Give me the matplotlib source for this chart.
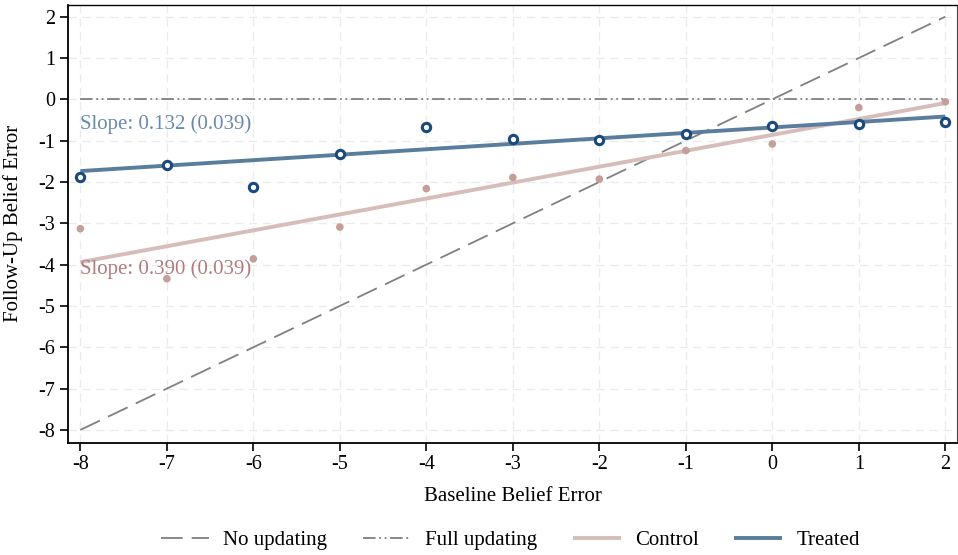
import matplotlib
matplotlib.use("Agg")
import matplotlib.pyplot as plt
import numpy as np

baseline = [-8, -7, -6, -5, -4, -3, -2, -1, 0, 1, 2]
treated = [-1.87, -1.58, -2.12, -1.32, -0.67, -0.96, -0.98, -0.84, -0.65, -0.60, -0.54]
control = [-3.13, -4.34, -3.86, -3.09, -2.16, -1.89, -1.93, -1.24, -1.08, -0.20, -0.06]
treated_fit = {"intercept": -0.68, "slope": 0.132}
control_fit = {"intercept": -0.86, "slope": 0.385}
treated_label = "Slope: 0.132 (0.039)"
control_label = "Slope: 0.390 (0.039)"
xticks = list(range(-8, 3))
yticks = list(range(-8, 3))

plt.rcParams['font.family'] = ['Liberation Serif', 'DejaVu Serif']
plt.rcParams['font.size'] = 15

fig = plt.figure(figsize=(9.58, 5.55), dpi=100)
ax = fig.add_axes([0.0707, 0.2023, 0.9286, 0.7892])

xs = np.array([baseline[0], baseline[-1]], dtype=float)

ax.plot(xs, xs, color='#808080', lw=1.3, dashes=(12, 5), label='No updating', zorder=2)
ax.plot(xs, [0, 0], color='#808080', lw=1.3, dashes=(7, 2, 1, 2, 1, 2), label='Full updating', zorder=2)
ax.plot(xs, control_fit["intercept"] + control_fit["slope"] * xs, color='#d6bdb9', lw=2.8,
        label='Control', zorder=3, solid_capstyle='butt')
ax.plot(xs, treated_fit["intercept"] + treated_fit["slope"] * xs, color='#5a7d9d', lw=2.8,
        label='Treated', zorder=4, solid_capstyle='butt')

ax.scatter(baseline, control, s=30, color='#c49e98', edgecolors='none', zorder=5)
ax.scatter(baseline, treated, s=36, facecolors='white', edgecolors='#1a4a7c', linewidths=2.2, zorder=6)

ax.text(-8, -0.6, treated_label, color='#6a8aab', ha='left', va='center', fontsize=15)
ax.text(-8, -4.12, control_label, color='#b07c7d', ha='left', va='center', fontsize=15)

ax.set_xlim(-8.146, 2.139)
ax.set_ylim(-8.31, 2.29)
ax.set_xticks(xticks)
ax.set_yticks(yticks)
ax.set_xticklabels([str(t) for t in xticks])
ax.set_yticklabels([str(t) for t in yticks])
ax.grid(True, color='#ebebeb', lw=1.0, dashes=(6, 4))
ax.set_axisbelow(True)
ax.tick_params(direction='out', length=6, width=1.2, labelsize=14.5, pad=3)
for s in ax.spines.values():
    s.set_linewidth(1.3)
ax.spines['right'].set_color('#444444')
ax.spines['right'].set_linewidth(0.8)
ax.spines['top'].set_linewidth(1.0)

ax.set_xlabel('Baseline Belief Error', fontsize=15, labelpad=9)
ax.set_ylabel('Follow-Up Belief Error', fontsize=15)
ax.yaxis.set_label_coords(-0.0505, 0.5)

leg = fig.legend(loc='center', bbox_to_anchor=(0.533, 0.027), ncol=4, frameon=False,
                 fontsize=15, handlelength=2.3, columnspacing=1.7, handletextpad=0.7)

fig.savefig('out.png', dpi=100)
